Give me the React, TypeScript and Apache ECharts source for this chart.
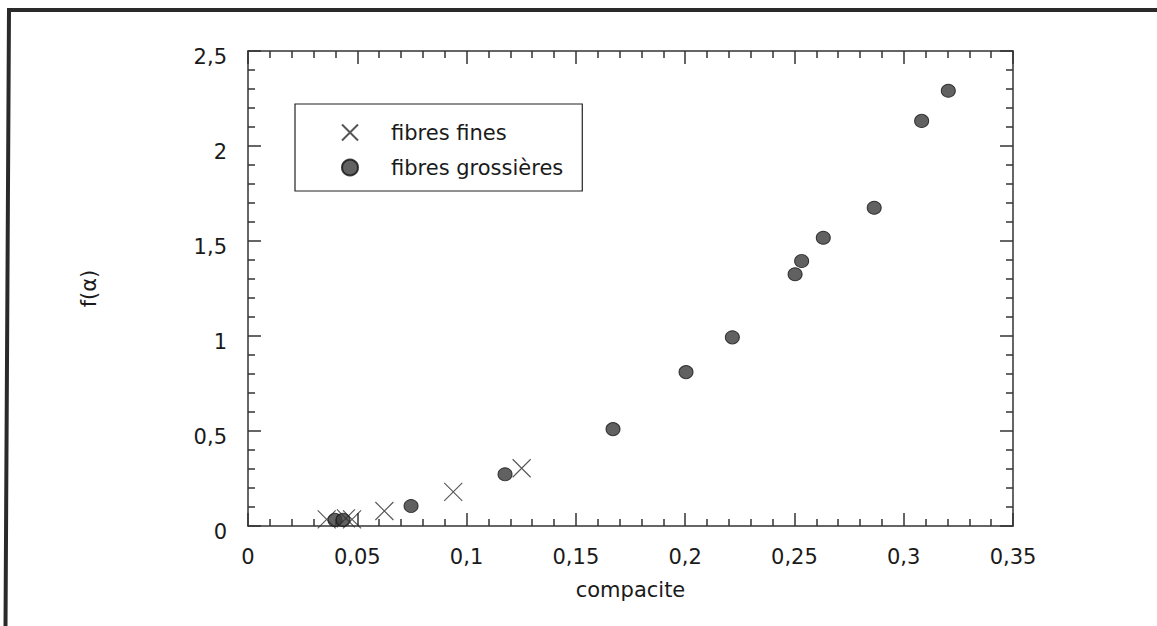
import React, { useEffect, useRef } from "react";
import * as echarts from "echarts";

const fineX = [0.036, 0.0448, 0.0476, 0.0624, 0.0939, 0.1252];
const fineY = [0.035, 0.04, 0.035, 0.079, 0.18, 0.304];
const coarseX = [0.0398, 0.0435, 0.0746, 0.1176, 0.167, 0.2004, 0.2216, 0.2503, 0.2533, 0.2632, 0.2865, 0.3082, 0.3204];
const coarseY = [0.032, 0.032, 0.105, 0.272, 0.51, 0.81, 0.993, 1.325, 1.395, 1.517, 1.675, 2.132, 2.291];
const seriesNames = ["fibres fines", "fibres grossières"];
const xName = "compacite";
const yName = "f(α)";

const FONT = "DejaVu Sans";
const INK = "#1a1a1a";
const fmt = (v: number) => String(Math.round(v * 100) / 100).replace(".", ",");

export default function App() {
  const ref = useRef<HTMLDivElement>(null);
  useEffect(() => {
    if (!ref.current) return;
    const chart = echarts.init(ref.current, undefined, { renderer: "svg" });
    const tickCommon = {
      axisLine: { show: true, onZero: false, lineStyle: { color: "#333", width: 1.5 } },
      axisTick: { show: true, inside: true, length: 13, lineStyle: { color: "#333", width: 1.5 } },
      minorTick: { show: true, splitNumber: 5, length: 7, lineStyle: { color: "#333", width: 1.5 } },
      splitLine: { show: false },
      minorSplitLine: { show: false },
    };
    chart.setOption({
      animation: false,
      backgroundColor: "#ffffff",
      grid: { left: 248, right: 144, top: 51, bottom: 100 },
      legend: {
        orient: "vertical",
        left: 295,
        top: 104,
        padding: [18, 19, 13, 46],
        itemGap: 14,
        itemWidth: 16,
        itemHeight: 16,
        borderColor: "#222",
        borderWidth: 1.2,
        textStyle: { fontFamily: FONT, fontSize: 21, color: INK, padding: [0, 0, 0, 28] },
        data: seriesNames,
      },
      xAxis: [
        {
          type: "value",
          position: "bottom",
          min: 0,
          max: 0.35,
          interval: 0.05,
          name: xName,
          nameLocation: "middle",
          nameGap: 53,
          nameTextStyle: { fontFamily: FONT, fontSize: 21, color: INK },
          axisLabel: { formatter: fmt, fontFamily: FONT, fontSize: 21, color: INK, margin: 20 },
          ...tickCommon,
        },
        {
          type: "value",
          position: "top",
          min: 0,
          max: 0.35,
          interval: 0.05,
          axisLabel: { show: false },
          ...tickCommon,
        },
      ],
      yAxis: [
        {
          type: "value",
          position: "left",
          min: 0,
          max: 2.5,
          interval: 0.5,
          name: yName,
          nameLocation: "middle",
          nameGap: 149,
          nameRotate: 90,
          nameTextStyle: { fontFamily: FONT, fontSize: 21, color: INK },
          axisLabel: {
            formatter: fmt,
            fontFamily: FONT,
            fontSize: 21,
            color: INK,
            margin: 21,
            verticalAlign: "top",
            lineHeight: 12,
          },
          ...tickCommon,
        },
        {
          type: "value",
          position: "right",
          min: 0,
          max: 2.5,
          interval: 0.5,
          axisLabel: { show: false },
          ...tickCommon,
        },
      ],
      series: [
        {
          name: seriesNames[0],
          type: "scatter",
          xAxisIndex: 0,
          yAxisIndex: 0,
          symbol: "path://M0,0L20,20M20,0L0,20",
          symbolSize: 18,
          itemStyle: { color: "rgba(0,0,0,0)", borderColor: "#2a2a2a", borderWidth: 1.1 },
          data: fineX.map((x, i) => [x, fineY[i]]),
          z: 3,
        },
        {
          name: seriesNames[1],
          type: "scatter",
          xAxisIndex: 0,
          yAxisIndex: 0,
          symbol: "circle",
          symbolSize: [14, 13],
          itemStyle: { color: "#3a3a3a", borderColor: "#111", borderWidth: 1 },
          data: coarseX.map((x, i) => [x, coarseY[i]]),
          z: 2,
        },
      ],
      graphic: [
        {
          type: "polyline",
          shape: { points: [[5.5, 626], [9, 10], [1157, 10]] },
          style: { stroke: "#2a2a2a", lineWidth: 4, fill: "none" },
          silent: true,
        },
      ],
    });
    return () => chart.dispose();
  }, []);
  return (
    <div
      ref={ref}
      style={{ position: "absolute", left: 0, top: 0, width: 1157, height: 626, background: "#fff" }}
    />
  );
}
